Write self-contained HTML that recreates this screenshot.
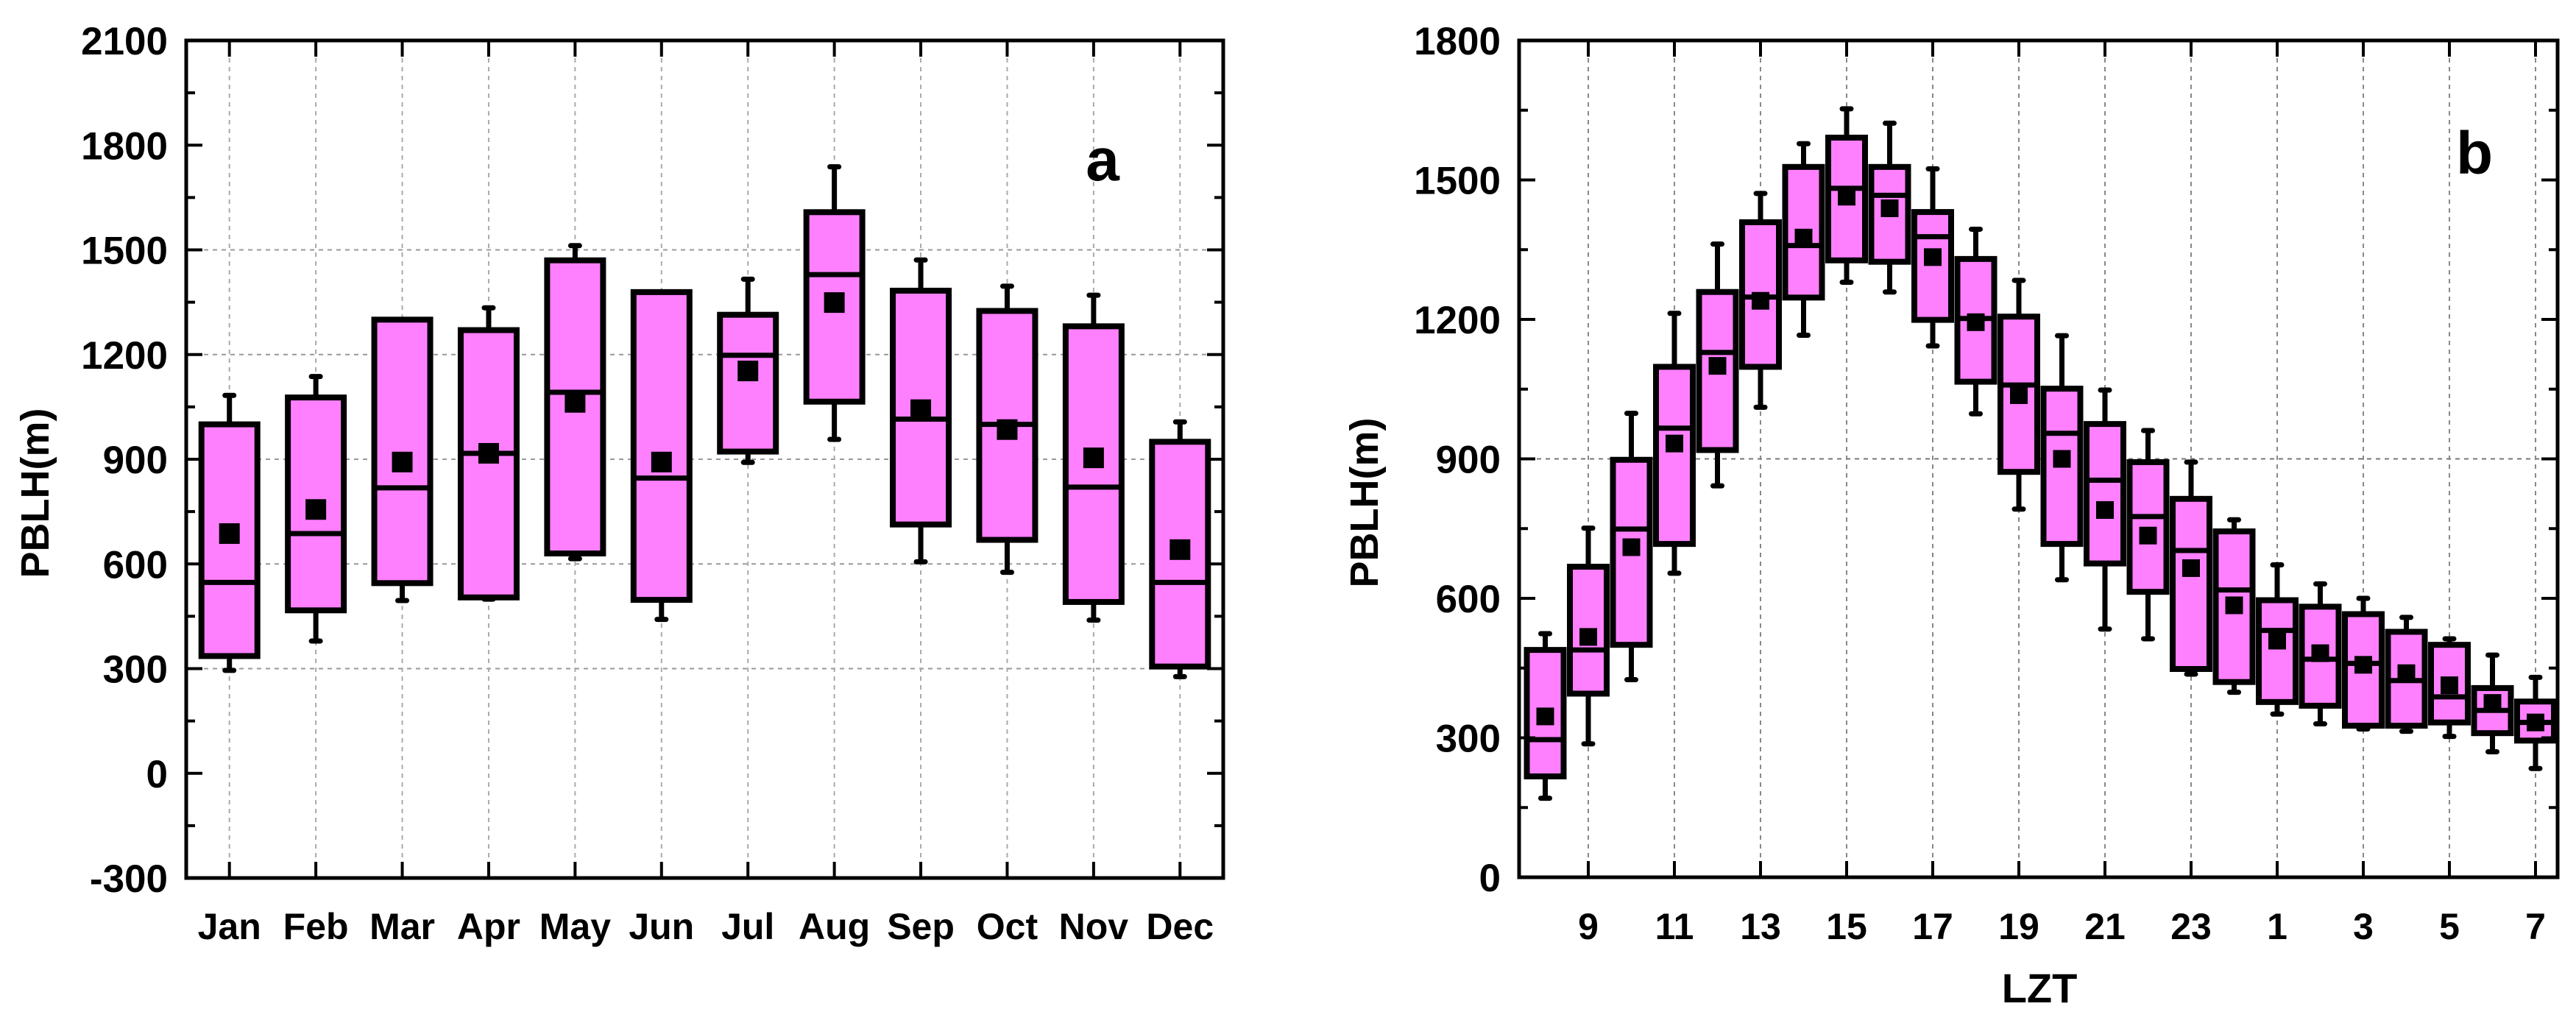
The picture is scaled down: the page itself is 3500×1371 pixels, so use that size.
<!DOCTYPE html>
<html><head><meta charset="utf-8"><style>
html,body{margin:0;padding:0;background:#fff;}
svg{display:block;font-family:"Liberation Sans",Arial,sans-serif;font-weight:bold;}
</style></head><body>
<svg id="chart" width="3500" height="1371" viewBox="0 0 3500 1371" xmlns="http://www.w3.org/2000/svg">
<g id="pa"></g>
<g id="pb"></g>
</svg>
<script>
// Panel a data
const monthLabels=["Jan","Feb","Mar","Apr","May","Jun","Jul","Aug","Sep","Oct","Nov","Dec"];
const aWhiskerHigh=[1083,1137,1290,1334,1512,1342,1416,1738,1471,1396,1370,1007];
const aQ3=[1000,1077,1300,1270,1470,1379,1314,1608,1383,1325,1281,950];
const aMedian=[547,687,818,917,1092,846,1198,1429,1015,1000,820,547];
const aQ1=[336,467,545,504,630,497,922,1065,713,669,491,306];
const aWhiskerLow=[295,379,495,499,615,441,891,957,606,576,439,277];
const aMean=[687,756,892,917,1063,892,1153,1349,1042,985,904,641];
const aYTicks=[-300,0,300,600,900,1200,1500,1800,2100];
// Panel b data
const hourLabels=[8,9,10,11,12,13,14,15,16,17,18,19,20,21,22,23,24,1,2,3,4,5,6,7];
const bWhiskerHigh=[524,751,998,1213,1362,1471,1578,1653,1622,1524,1394,1284,1165,1048,961,893,769,672,631,600,559,513,478,430];
const bQ3=[489,668,898,1098,1259,1409,1528,1591,1528,1431,1330,1206,1051,975,893,814,744,596,582,566,528,500,407,378];
const bMedian=[296,489,749,966,1129,1248,1359,1482,1467,1378,1202,1059,955,854,776,703,618,531,469,460,423,388,359,333];
const bQ1=[217,395,500,717,919,1098,1247,1327,1324,1199,1066,872,717,675,614,448,420,377,369,326,326,333,310,294];
const bWhiskerLow=[170,287,425,654,842,1011,1166,1280,1259,1143,997,792,640,534,513,437,398,351,330,319,314,303,270,234];
const bMean=[346,517,710,933,1100,1240,1376,1464,1439,1334,1194,1037,900,790,735,665,585,509,482,457,439,413,375,333];
const bYTicks=[0,300,600,900,1200,1500,1800];
const bXTickLabels=["9","11","13","15","17","19","21","23","1","3","5","7"];

const NS="http://www.w3.org/2000/svg";
function mk(parent,tag,attrs,text){const e=document.createElementNS(NS,tag);for(const k in attrs)e.setAttribute(k,attrs[k]);if(text!==undefined)e.textContent=text;parent.appendChild(e);return e;}

// ---- Panel A ----
const A={l:253,r:1662,t:55,b:1193};
const ay=v=>A.b-(v+300)/2400*(A.b-A.t);
const ax=i=>A.l+(i+0.5)*(A.r-A.l)/12;
const pa=document.getElementById('pa');
[300,600,900,1200,1500].forEach(v=>{const g=mk(pa,'line',{x1:A.l,x2:A.r,y1:ay(v),y2:ay(v),stroke:'#999','stroke-width':2,'stroke-dasharray':'6,6'});

});
monthLabels.forEach((m,i)=>{const g=mk(pa,'line',{x1:ax(i),x2:ax(i),y1:A.t,y2:A.b,stroke:'#aaa','stroke-width':2,'stroke-dasharray':'6,6'});

});
monthLabels.forEach((m,i)=>{
 const g=mk(pa,'g',{});
 
 
 const x=ax(i),w=76;
 mk(g,'line',{x1:x,x2:x,y1:ay(aWhiskerHigh[i]),y2:ay(aWhiskerLow[i]),stroke:'#000','stroke-width':7});
 mk(g,'line',{x1:x-6,x2:x+6,y1:ay(aWhiskerHigh[i]),y2:ay(aWhiskerHigh[i]),stroke:'#000','stroke-width':7,'stroke-linecap':'round'});
 mk(g,'line',{x1:x-6,x2:x+6,y1:ay(aWhiskerLow[i]),y2:ay(aWhiskerLow[i]),stroke:'#000','stroke-width':7,'stroke-linecap':'round'});
 mk(g,'rect',{x:x-w/2,y:ay(aQ3[i]),width:w,height:ay(aQ1[i])-ay(aQ3[i]),fill:'#ff80ff',stroke:'#000','stroke-width':8});
 mk(g,'line',{x1:x-w/2,x2:x+w/2,y1:ay(aMedian[i]),y2:ay(aMedian[i]),stroke:'#000','stroke-width':7});
 mk(g,'rect',{x:x-14,y:ay(aMean[i])-14,width:28,height:28,fill:'#000'});
});
const fa=mk(pa,'rect',{x:A.l,y:A.t,width:A.r-A.l,height:A.b-A.t,fill:'none',stroke:'#000','stroke-width':5});


for(let v=-300;v<=2100;v+=150){const len=(v%300===0)?22:12;
 mk(pa,'line',{x1:A.l,x2:A.l+len,y1:ay(v),y2:ay(v),stroke:'#000','stroke-width':4});
 mk(pa,'line',{x1:A.r,x2:A.r-len,y1:ay(v),y2:ay(v),stroke:'#000','stroke-width':4});}
aYTicks.forEach(v=>{const t=mk(pa,'text',{x:228,y:ay(v)+19,'text-anchor':'end','font-size':53},String(v));

});
monthLabels.forEach((m,i)=>{
 mk(pa,'line',{x1:ax(i),x2:ax(i),y1:A.b,y2:A.b-22,stroke:'#000','stroke-width':4});
 mk(pa,'line',{x1:ax(i),x2:ax(i),y1:A.t,y2:A.t+22,stroke:'#000','stroke-width':4});
 const t=mk(pa,'text',{x:ax(i),y:1276,'text-anchor':'middle','font-size':50},m);
 
 });
const ta=mk(pa,'text',{x:0,y:0,transform:'translate(66,670) rotate(-90)','text-anchor':'middle','font-size':54},'PBLH(m)');


const la=mk(pa,'text',{x:1498,y:245,'text-anchor':'middle','font-size':82},'a');



// ---- Panel B ----
const B={l:2064,r:3475,t:55,b:1192};
const by=v=>B.b-v/1800*(B.b-B.t);
const bx=i=>3445+(i-23)*58.5;
const pb=document.getElementById('pb');
const g9=mk(pb,'line',{x1:B.l,x2:B.r,y1:by(900),y2:by(900),stroke:'#777','stroke-width':2,'stroke-dasharray':'6,6'});


bXTickLabels.forEach((lab,k)=>{const x=bx(1+2*k);const g=mk(pb,'line',{x1:x,x2:x,y1:B.t,y2:B.b,stroke:'#888','stroke-width':2,'stroke-dasharray':'6,6'});

});
hourLabels.forEach((h,i)=>{
 const g=mk(pb,'g',{});
 
 
 const x=bx(i),w=50;
 mk(g,'line',{x1:x,x2:x,y1:by(bWhiskerHigh[i]),y2:by(bWhiskerLow[i]),stroke:'#000','stroke-width':7});
 mk(g,'line',{x1:x-6,x2:x+6,y1:by(bWhiskerHigh[i]),y2:by(bWhiskerHigh[i]),stroke:'#000','stroke-width':7,'stroke-linecap':'round'});
 mk(g,'line',{x1:x-6,x2:x+6,y1:by(bWhiskerLow[i]),y2:by(bWhiskerLow[i]),stroke:'#000','stroke-width':7,'stroke-linecap':'round'});
 mk(g,'rect',{x:x-w/2,y:by(bQ3[i]),width:w,height:by(bQ1[i])-by(bQ3[i]),fill:'#ff80ff',stroke:'#000','stroke-width':8});
 mk(g,'line',{x1:x-w/2,x2:x+w/2,y1:by(bMedian[i]),y2:by(bMedian[i]),stroke:'#000','stroke-width':7});
 mk(g,'rect',{x:x-12,y:by(bMean[i])-12,width:24,height:24,fill:'#000'});
});
const fb=mk(pb,'rect',{x:B.l,y:B.t,width:B.r-B.l,height:B.b-B.t,fill:'none',stroke:'#000','stroke-width':5});


for(let v=0;v<=1800;v+=150){const len=(v%300===0)?22:12;
 mk(pb,'line',{x1:B.l,x2:B.l+len,y1:by(v),y2:by(v),stroke:'#000','stroke-width':4});
 mk(pb,'line',{x1:B.r,x2:B.r-len,y1:by(v),y2:by(v),stroke:'#000','stroke-width':4});}
bYTicks.forEach(v=>{const t=mk(pb,'text',{x:2039,y:by(v)+19,'text-anchor':'end','font-size':53},String(v));

});
bXTickLabels.forEach((lab,k)=>{const x=bx(1+2*k);
 mk(pb,'line',{x1:x,x2:x,y1:B.b,y2:B.b-22,stroke:'#000','stroke-width':4});
 mk(pb,'line',{x1:x,x2:x,y1:B.t,y2:B.t+22,stroke:'#000','stroke-width':4});
 const t=mk(pb,'text',{x:x,y:1276,'text-anchor':'middle','font-size':50},lab);
 
 });
const tb=mk(pb,'text',{x:0,y:0,transform:'translate(1872,683) rotate(-90)','text-anchor':'middle','font-size':54},'PBLH(m)');


const xt=mk(pb,'text',{x:2771,y:1362,'text-anchor':'middle','font-size':56},'LZT');


const lb=mk(pb,'text',{x:3362,y:236,'text-anchor':'middle','font-size':82},'b');


</script>
</body></html>
